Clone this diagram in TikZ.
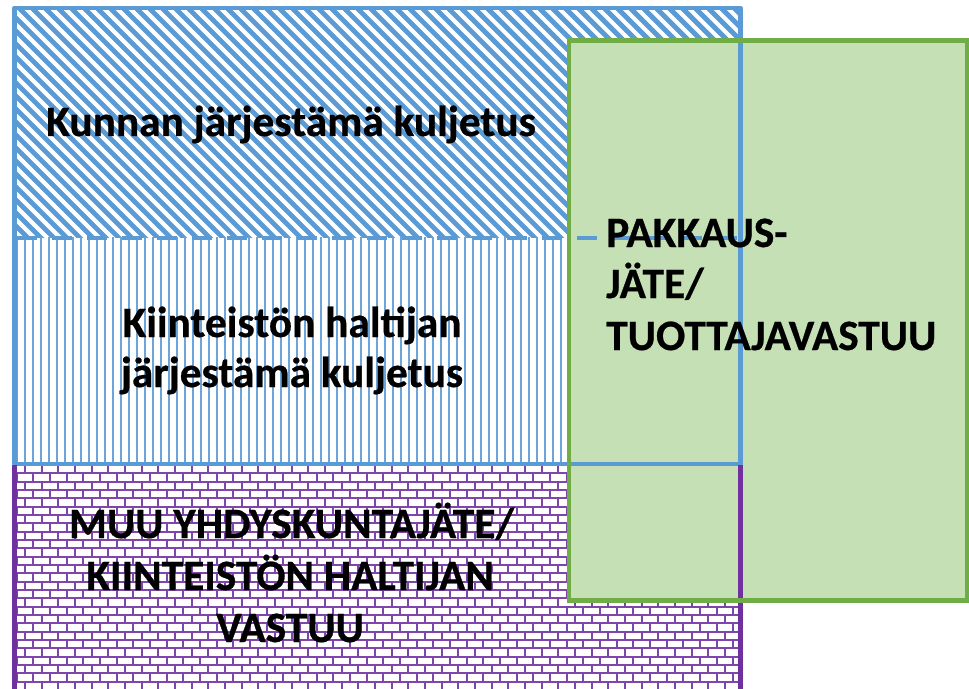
\documentclass[tikz,border=0pt]{standalone}
\usepackage{fontspec}
\setmainfont{Carlito}
\newfontfamily\heavyfont{Carlito}[FakeBold=0.6,BoldFont={Carlito Bold},BoldFeatures={FakeBold=0.6}]
\definecolor{bblue}{HTML}{5B9BD5}
\definecolor{ppurple}{HTML}{7030A0}
\definecolor{gline}{HTML}{70AD47}
\definecolor{gfill}{HTML}{C5E0B4}
\begin{document}
\begin{tikzpicture}[x=0.75pt,y=-0.75pt,
  hatch/.style={bblue,line width=3.7pt},
  vline/.style={bblue!90,line width=1.05pt},
  brick/.style={ppurple!90,line width=1.4pt},
  bborder/.style={bblue,line width=3.6pt,line join=round},
  pborder/.style={ppurple,line width=3.4pt},
  gborder/.style={gline,line width=3.3pt},
  lbl/.style={font=\heavyfont\fontsize{32.5}{39}\selectfont\bfseries,inner sep=0pt,text=black}]
\useasboundingbox (0,0) rectangle (969,688);
% diagonal hatch (top region)
\begin{scope}
\clip (14,8) rectangle (741,237);
\foreach \i in {-262,-249,...,760}{\draw[hatch] (\i,0) -- ++(250,250);}
\end{scope}
% vertical lines (middle region)
\begin{scope}
\clip (14,237) rectangle (741,464);
\foreach \i in {17,25,...,745}{\draw[vline] (\i,230) -- (\i,470);}
\end{scope}
% bricks (bottom region)
\begin{scope}
\clip (14,464) rectangle (741,690);
\foreach \r in {0,...,27}{
  \pgfmathsetmacro{\yy}{465+\r*8.333}
  \pgfmathsetmacro{\off}{8.333-mod(\r,2)*8.333}
  \draw[brick] (0,\yy) -- (760,\yy);
  \foreach \k in {0,...,45}{\draw[brick] ({\off+\k*16.667},\yy) -- ++(0,8.333);}
}
\end{scope}
% green box fill
\fill[gfill] (569,40.5) rectangle (967,600.5);
% borders of blue and purple regions
\draw[bblue,line width=2.8pt,dash pattern=on 15pt off 11.25pt,dash phase=-2pt] (14,238) -- (741,238);
\draw[bborder] (14.7,464) -- (14.7,8) -- (740.5,8) -- (740.5,464) -- cycle;
\draw[pborder] (14.7,465) -- (14.7,690);
\draw[pborder] (740.5,465) -- (740.5,690);
% green border
\draw[gborder] (569,40.5) rectangle (967,600.5);
% labels
\node[lbl,anchor=base] (t1) at (291,136) {Kunnan järjestämä kuljetus};
\node[lbl,anchor=base] (t2a) at (292,337) {Kiinteistön haltijan};
\node[lbl,anchor=base] (t2b) at (292,387) {järjestämä kuljetus};
\node[lbl,anchor=base] (t3a) at (291.5,538) {MUU YHDYSKUNTAJÄTE/};
\node[lbl,anchor=base] (t3b) at (290,590) {KIINTEISTÖN HALTIJAN};
\node[lbl,anchor=base] (t3c) at (290,642) {VASTUU};
\node[lbl,anchor=base west] (t4a) at (606,247) {PAKKAUS-};
\node[lbl,anchor=base west] (t4b) at (606,298) {JÄTE/};
\node[lbl,anchor=base west] (t4c) at (606,350) {TUOTTAJAVASTUU};
\end{tikzpicture}
\end{document}
